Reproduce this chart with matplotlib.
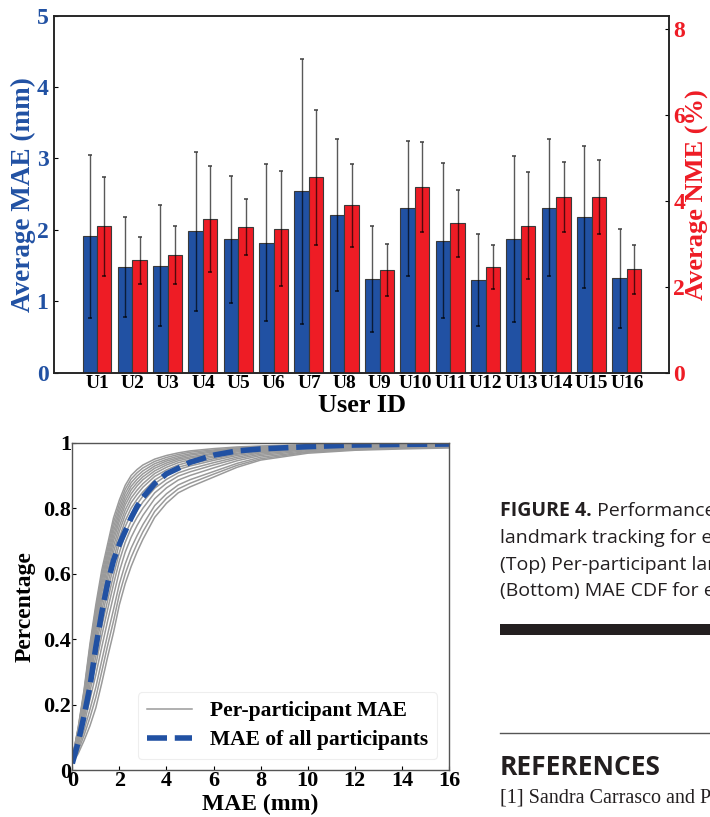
import numpy as np
import matplotlib.pyplot as plt
from matplotlib.patches import Rectangle
from matplotlib.lines import Line2D

plt.rcParams['font.family'] = 'Liberation Serif'
plt.rcParams['font.weight'] = 'bold'
plt.rcParams['axes.labelweight'] = 'bold'

BLUE = '#2151a3'
RED = '#ee1c25'

# ---- top: per-participant MAE / NME ----
users = ['U1', 'U2', 'U3', 'U4', 'U5', 'U6', 'U7', 'U8',
         'U9', 'U10', 'U11', 'U12', 'U13', 'U14', 'U15', 'U16']
mae_mean = [1.91, 1.48, 1.50, 1.98, 1.87, 1.82, 2.54, 2.21,
            1.31, 2.30, 1.85, 1.30, 1.87, 2.31, 2.18, 1.32]
mae_std = [1.14, 0.70, 0.85, 1.11, 0.89, 1.10, 1.86, 1.07,
           0.74, 0.94, 1.08, 0.64, 1.16, 0.96, 0.99, 0.69]
nme_mean = [3.41, 2.62, 2.74, 3.58, 3.39, 3.36, 4.55, 3.90,
            2.39, 4.32, 3.48, 2.46, 3.43, 4.09, 4.09, 2.41]
nme_std = [1.15, 0.55, 0.68, 1.24, 0.65, 1.35, 1.58, 0.96,
           0.60, 1.05, 0.78, 0.52, 1.25, 0.81, 0.86, 0.57]

# ---- bottom: MAE CDF ----
mae_grid = [0, 0.25, 0.5, 0.75, 1, 1.25, 1.5, 1.75, 2, 2.25, 2.5, 2.75,
            3, 3.5, 4, 4.5, 5, 6, 7, 8, 10, 12, 14, 16]
cdf_users = [
    [.035, .130, .245, .385, .505, .610, .690, .770, .825, .870, .900, .918, .932, .950, .961, .969, .975, .982, .987, .990, .994, .996, .998, .999],
    [.034, .127, .239, .375, .492, .596, .676, .756, .812, .858, .889, .908, .923, .943, .955, .964, .971, .978, .984, .988, .993, .995, .997, .998],
    [.034, .124, .233, .365, .480, .582, .662, .742, .799, .846, .878, .898, .914, .936, .949, .959, .966, .975, .982, .987, .992, .994, .997, .998],
    [.033, .120, .226, .355, .467, .569, .649, .728, .787, .834, .867, .888, .905, .929, .944, .954, .962, .972, .980, .985, .991, .994, .996, .997],
    [.033, .117, .220, .345, .455, .555, .635, .714, .774, .822, .856, .878, .896, .922, .938, .950, .957, .968, .977, .983, .990, .993, .995, .997],
    [.032, .114, .214, .335, .442, .541, .621, .700, .761, .810, .844, .868, .887, .914, .932, .945, .953, .965, .975, .981, .989, .992, .995, .996],
    [.031, .110, .206, .323, .426, .524, .604, .683, .745, .795, .831, .855, .875, .906, .925, .939, .948, .960, .972, .979, .988, .991, .994, .995],
    [.031, .106, .199, .310, .411, .507, .587, .665, .729, .780, .817, .842, .864, .897, .917, .932, .942, .956, .968, .977, .986, .990, .993, .995],
    [.030, .101, .189, .295, .392, .486, .566, .644, .710, .762, .800, .827, .850, .886, .908, .925, .935, .951, .965, .975, .985, .989, .992, .994],
    [.029, .096, .180, .280, .373, .465, .545, .623, .691, .744, .783, .812, .837, .875, .900, .918, .929, .946, .961, .972, .983, .988, .991, .993],
    [.028, .090, .168, .260, .348, .438, .518, .595, .665, .720, .761, .792, .819, .861, .888, .908, .920, .939, .956, .969, .981, .987, .990, .992],
    [.026, .084, .155, .240, .322, .410, .490, .567, .639, .696, .739, .772, .800, .847, .876, .898, .911, .932, .951, .965, .979, .985, .988, .990],
    [.025, .076, .140, .215, .291, .375, .455, .532, .607, .666, .711, .747, .778, .829, .862, .886, .900, .923, .945, .961, .976, .983, .986, .989],
    [.023, .066, .121, .185, .253, .334, .414, .490, .569, .630, .678, .716, .750, .808, .844, .871, .887, .912, .937, .956, .973, .981, .984, .987],
    [.022, .058, .106, .160, .222, .300, .380, .455, .537, .600, .650, .691, .728, .790, .830, .859, .876, .904, .931, .951, .971, .979, .983, .986],
    [.020, .050, .090, .135, .190, .265, .345, .420, .505, .570, .622, .666, .705, .772, .815, .847, .865, .895, .925, .947, .968, .977, .981, .984],
]
cdf_all = [.020, .085, .165, .255, .375, .480, .570, .640, .690, .730, .770, .805,
           .833, .875, .905, .922, .940, .962, .975, .981, .988, .993, .995, .996]
cdf_yticks = [0, 0.2, 0.4, 0.6, 0.8, 1]
cdf_yticklabels = ['0', '0.2', '0.4', '0.6', '0.8', '1']

fig = plt.figure(figsize=(7.1, 8.17), dpi=100)

# ================= top chart =================
ax = fig.add_axes([0.0761, 0.5438, 0.8666, 0.4370])
ax2 = ax.twinx()
x = np.arange(len(users))
w = 0.41

ax.bar(x - w / 2, mae_mean, w, color=BLUE, edgecolor='#3a3a3a', linewidth=0.8)
ax.errorbar(x - w / 2, mae_mean, yerr=mae_std, fmt='none', ecolor='black',
            elinewidth=1.0, capsize=1.5, capthick=1.3, alpha=0.65)
ax2.bar(x + w / 2, nme_mean, w, color=RED, edgecolor='#3a3a3a', linewidth=0.8)
ax2.errorbar(x + w / 2, nme_mean, yerr=nme_std, fmt='none', ecolor='black',
             elinewidth=1.0, capsize=1.5, capthick=1.3, alpha=0.65)

ax.set_xlim(-1.216, 16.2)
ax.set_ylim(0, 5)
ax2.set_ylim(0, 8.32)
ax.set_xticks(x)
ax.set_xticklabels(users)
ax.set_yticks([0, 1, 2, 3, 4, 5])
ax2.set_yticks([0, 2, 4, 6, 8])
ax.tick_params(axis='x', length=0, pad=2, labelsize=14)
ax.tick_params(axis='y', direction='in', length=3, pad=4, labelsize=17, labelcolor=BLUE)
ax2.tick_params(axis='y', direction='in', length=3, pad=3, labelsize=17, labelcolor=RED)

ax.set_xlabel('User ID', fontsize=19, va='center')
ax.xaxis.set_label_coords(0.5, -0.092)
ax.set_ylabel('Average MAE (mm)', fontsize=19.5, color=BLUE, va='center', ha='center')
ax.yaxis.set_label_coords(-0.049, 0.5)
ax2.set_ylabel('Average NME (%)', fontsize=19, color=RED, va='center', ha='center')
ax2.yaxis.set_label_coords(1.0455, 0.5)
for a in (ax, ax2):
    for s in a.spines.values():
        s.set_color('#222222')
        s.set_linewidth(1.1)

# ================= bottom chart =================
bx = fig.add_axes([0.1018, 0.0575, 0.5306, 0.4006])
for i, cdf in enumerate(cdf_users):
    bx.plot(mae_grid, cdf, color='#9a9a9a', lw=1.1,
            label='Per-participant MAE' if i == 0 else None)
bx.plot(mae_grid, cdf_all, color=BLUE, lw=4, ls=(0, (3.6, 1.4)),
        label='MAE of all participants')

bx.set_xlim(0, 16)
bx.set_ylim(0, 1)
bx.set_xticks(np.arange(0, 17, 2))
bx.set_yticks(cdf_yticks)
bx.set_yticklabels(cdf_yticklabels)
bx.tick_params(direction='in', length=3, width=0.8, labelsize=16, pad=1)
bx.set_xlabel('MAE (mm)', fontsize=17, va='center')
bx.xaxis.set_label_coords(0.5, -0.104)
bx.set_ylabel('Percentage', fontsize=17, va='center', ha='center')
bx.yaxis.set_label_coords(-0.126, 0.5)
for s in bx.spines.values():
    s.set_color('#555555')
    s.set_linewidth(1.0)

leg = bx.legend(loc='lower right', bbox_to_anchor=(0.968, 0.034), borderaxespad=0,
                prop={'family': 'Liberation Serif', 'weight': 'bold', 'size': 15.5},
                handlelength=2.1, handletextpad=0.85, labelspacing=0.42,
                borderpad=0.4, framealpha=1, fancybox=True)
leg.get_frame().set_edgecolor('#eeeeee')
leg.get_frame().set_linewidth(0.8)

# ================= caption / page text =================
X0 = 500 / 710
def fy(px):
    return 1 - px / 817

cap = dict(family='Open Sans', fontsize=14, color='#231f20', va='baseline')
t = fig.text(X0, fy(516), 'FIGURE 4.', fontweight='bold', **cap)
fig.canvas.draw()
bb = t.get_window_extent(fig.canvas.get_renderer())
fig.text(bb.x1 / fig.bbox.width, fy(516), ' Performance of facial', fontweight='normal', **cap)
fig.text(X0, fy(543), 'landmark tracking for each participant.', fontweight='normal', **cap)
fig.text(X0, fy(569.5), '(Top) Per-participant landmark', fontweight='normal', **cap)
fig.text(X0, fy(596), '(Bottom) MAE CDF for each', fontweight='normal', **cap)

fig.add_artist(Rectangle((X0, fy(635)), 0.4, 11 / 817, transform=fig.transFigure,
                         color='#231f20', lw=0))
fig.add_artist(Line2D([X0, 1.0], [fy(732.7), fy(732.7)], transform=fig.transFigure,
                      color='#555555', lw=1))
fig.text(X0, fy(775), 'REFERENCES', family='Open Sans', fontweight='bold',
         fontsize=19, color='#231f20', va='baseline')
fig.text(X0, fy(803), '[1] Sandra Carrasco and Paul', family='Liberation Serif',
         fontweight='normal', fontsize=14.5, color='#231f20', va='baseline')

fig.savefig('out.png', dpi=100)
